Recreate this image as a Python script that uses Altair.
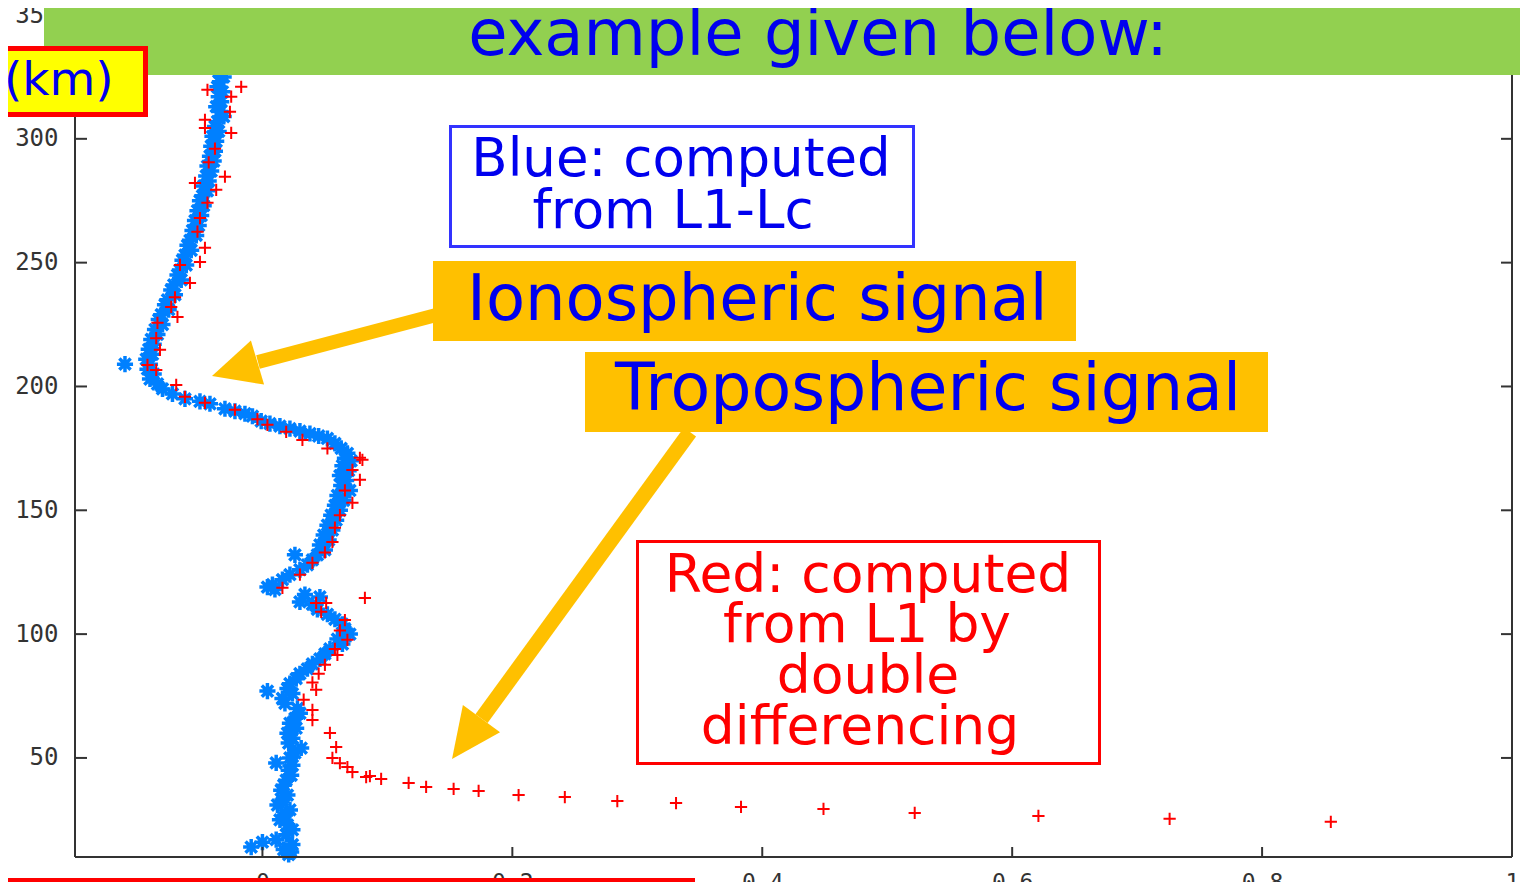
import altair as alt
import pandas as pd

# ---------------- data ----------------
# Blue: computed from L1-Lc  (altitude km, value)
blue_alt = [349, 347, 345, 343, 341, 339, 337, 335, 333, 331, 329, 327, 325, 323, 321, 319, 317, 315,
            313, 311, 309, 307, 305, 303, 301, 299, 297, 295, 293, 291, 289, 287, 285, 283, 281, 279,
            277, 275, 273, 271, 269, 267, 265, 263, 261, 259, 257, 255, 253, 251, 249, 247, 245, 243,
            241, 239, 237, 235, 233, 231, 229, 227, 225, 223, 221, 219, 217, 215, 213, 211, 209, 209,
            207, 205, 203, 201, 199, 197, 195, 194, 193, 191, 190, 189, 188, 186, 185, 184, 183, 182,
            181, 180, 179, 177, 175, 173, 171, 170, 168, 166, 164, 162, 160, 158, 156, 154, 152, 150,
            148, 146, 144, 142, 140, 138, 136, 134, 132, 132, 130, 128, 126, 124, 122, 120, 119, 118,
            116, 115, 113, 112, 110, 108, 106, 104, 102, 100, 98, 96, 94, 92, 90, 88, 86, 84, 82, 80,
            78, 77, 76, 74, 72, 70, 68, 66, 64, 62, 60, 58, 56, 54, 52, 50, 48, 47, 45, 43, 41, 39, 37,
            35, 33, 31, 29, 27, 25, 23, 21, 19, 17, 16, 15, 14, 13, 12, 11]
blue_val = [-0.029, -0.031, -0.028, -0.032, -0.030, -0.033, -0.029, -0.031, -0.034, -0.030, -0.032,
            -0.035, -0.031, -0.034, -0.036, -0.032, -0.035, -0.033, -0.037, -0.034, -0.031, -0.036,
            -0.038, -0.035, -0.040, -0.037, -0.041, -0.038, -0.042, -0.039, -0.044, -0.041, -0.045,
            -0.043, -0.047, -0.044, -0.048, -0.050, -0.047, -0.052, -0.049, -0.054, -0.051, -0.056,
            -0.053, -0.058, -0.060, -0.057, -0.062, -0.064, -0.061, -0.066, -0.068, -0.065, -0.071,
            -0.073, -0.070, -0.076, -0.078, -0.075, -0.081, -0.083, -0.080, -0.086, -0.084, -0.089,
            -0.087, -0.091, -0.088, -0.093, -0.110, -0.090, -0.092, -0.087, -0.090, -0.084, -0.080,
            -0.072, -0.062, -0.050, -0.042, -0.030, -0.022, -0.014, -0.008, -0.001, 0.006, 0.014,
            0.022, 0.030, 0.038, 0.045, 0.052, 0.058, 0.063, 0.068, 0.066, 0.071, 0.064, 0.069, 0.062,
            0.067, 0.063, 0.070, 0.060, 0.065, 0.058, 0.062, 0.055, 0.059, 0.052, 0.056, 0.049, 0.053,
            0.046, 0.050, 0.044, 0.026, 0.040, 0.036, 0.030, 0.022, 0.016, 0.008, 0.004, 0.010, 0.034,
            0.046, 0.030, 0.040, 0.044, 0.052, 0.058, 0.064, 0.066, 0.070, 0.060, 0.064, 0.054, 0.050,
            0.046, 0.040, 0.036, 0.030, 0.027, 0.022, 0.020, 0.004, 0.024, 0.016, 0.018, 0.028, 0.030,
            0.026, 0.022, 0.027, 0.020, 0.024, 0.021, 0.031, 0.026, 0.022, 0.011, 0.024, 0.021, 0.023,
            0.019, 0.017, 0.015, 0.020, 0.016, 0.012, 0.022, 0.018, 0.014, 0.020, 0.024, 0.019, 0.011,
            0.000, 0.024, -0.009, 0.017, 0.023, 0.021]

# Red: computed from L1 by double differencing
red_alt = [321.0, 319.8, 317.0, 310.9, 307.7, 304.4, 302.4, 296.0, 290.5, 284.7, 282.2, 279.4, 274.2,
           268.0, 262.5, 256.0, 250.3, 249.1, 241.8, 236.0, 232.1, 228.1, 225.7, 219.5, 214.8, 208.7,
           206.7, 200.6, 195.8, 193.4, 190.6, 186.8, 184.5, 181.7, 178.4, 175.0, 171.2, 170.4, 166.3,
           162.3, 158.0, 153.0, 148.0, 143.0, 137.2, 133.0, 128.8, 124.0, 118.7, 114.6, 112.6, 112.6,
           109.0, 105.7, 101.5, 97.7, 94.0, 91.6, 87.6, 84.0, 80.5, 77.5, 73.5, 69.4, 65.3, 60.1,
           54.4, 50.0, 47.9, 46.3, 44.3, 42.7, 42.3, 41.5, 39.9, 38.3, 37.5, 36.7, 35.0, 34.2, 32.6,
           31.8, 30.2, 29.4, 27.8, 26.6, 25.4, 24.2]
red_val = [-0.017, -0.044, -0.025, -0.026, -0.046, -0.046, -0.025, -0.038, -0.043, -0.030, -0.054,
           -0.037, -0.044, -0.050, -0.052, -0.046, -0.050, -0.066, -0.058, -0.070, -0.073, -0.068,
           -0.084, -0.085, -0.082, -0.092, -0.085, -0.069, -0.062, -0.046, -0.022, -0.004, 0.004,
           0.019, 0.032, 0.052, 0.078, 0.080, 0.072, 0.078, 0.066, 0.072, 0.062, 0.058, 0.056, 0.050,
           0.040, 0.030, 0.016, 0.082, 0.043, 0.051, 0.047, 0.066, 0.062, 0.068, 0.058, 0.060, 0.050,
           0.045, 0.040, 0.043, 0.033, 0.040, 0.040, 0.054, 0.059, 0.056, 0.062, 0.068, 0.072, 0.086,
           0.083, 0.095, 0.117, 0.131, 0.153, 0.173, 0.205, 0.242, 0.284, 0.331, 0.383, 0.449, 0.522,
           0.621, 0.726, 0.855]

x_ticks = [0, 0.2, 0.4, 0.6, 0.8, 1]
y_ticks = [50, 100, 150, 200, 250, 300, 350]

# ---------------- layout ----------------
W, H = 1437, 842
AXIS = "#333333"
BLUE_TXT = "#0000ee"
ORANGE = "#ffc000"
FONT = "DejaVu Sans"

blue_df = pd.DataFrame({"x": blue_val, "alt": blue_alt})
red_df = pd.DataFrame({"x": red_val, "alt": red_alt})
xt_df = pd.DataFrame({"x": x_ticks})
yt_df = pd.DataFrame({"alt": y_ticks})
one = pd.DataFrame({"a": [0]})

xscale = alt.Scale(domain=[-0.15, 1], nice=False, zero=False)
yscale = alt.Scale(domain=[10, 350], nice=False, zero=False)

x_axis = alt.Axis(values=x_ticks, format="~g", ticks=False, domain=False, grid=False,
                  labelFont="DejaVu Sans Mono", labelFontSize=23, labelColor=AXIS,
                  labelPadding=14, labelFlush=False, title=None)
y_axis = alt.Axis(values=y_ticks, format="d", ticks=False, domain=False, grid=False,
                  labelFont="DejaVu Sans Mono", labelFontSize=24, labelColor=AXIS,
                  labelPadding=17, labelFlush=False, title=None)

STAR = "M-1,0L1,0M0,-1L0,1M-0.7,-0.7L0.7,0.7M-0.7,0.7L0.7,-0.7"
PLUS = "M-1,0L1,0M0,-1L0,1"
HEAD1 = "M0,-1L0.97,1L-0.97,1Z"
HEAD2 = "M0,-1L0.92,1L-0.92,1Z"

X = alt.X("x:Q", scale=xscale, axis=x_axis)
Y = alt.Y("alt:Q", scale=yscale, axis=y_axis)

blue = alt.Chart(blue_df).mark_point(shape=STAR, color="#0080ff", strokeWidth=3.5, size=260,
                                     opacity=1).encode(x=X, y=Y)
red = alt.Chart(red_df).mark_point(shape=PLUS, color="#ff0000", strokeWidth=2, size=150,
                                   opacity=1).encode(x=X, y=Y)

# frame and inward ticks
frame = [
    alt.Chart(one).mark_rule(color=AXIS, strokeWidth=2).encode(
        x=alt.value(0), x2=alt.value(0), y=alt.value(0), y2=alt.value(H)),
    alt.Chart(one).mark_rule(color=AXIS, strokeWidth=2).encode(
        x=alt.value(W), x2=alt.value(W), y=alt.value(0), y2=alt.value(H)),
    alt.Chart(one).mark_rule(color=AXIS, strokeWidth=2).encode(
        x=alt.value(0), x2=alt.value(W), y=alt.value(H), y2=alt.value(H)),
    alt.Chart(one).mark_rule(color=AXIS, strokeWidth=2).encode(
        x=alt.value(0), x2=alt.value(W), y=alt.value(0), y2=alt.value(0)),
    alt.Chart(xt_df).mark_rule(color=AXIS, strokeWidth=2).encode(
        x=X, y=alt.value(H), y2=alt.value(H - 10)),
    alt.Chart(xt_df).mark_rule(color=AXIS, strokeWidth=2).encode(
        x=X, y=alt.value(0), y2=alt.value(10)),
    alt.Chart(yt_df).mark_rule(color=AXIS, strokeWidth=2).encode(
        y=Y, x=alt.value(0), x2=alt.value(12)),
    alt.Chart(yt_df).mark_rule(color=AXIS, strokeWidth=2).encode(
        y=Y, x=alt.value(W), x2=alt.value(W - 11)),
]


def box(x1, x2, y1, y2, fill, stroke="transparent", sw=0):
    return alt.Chart(one).mark_rect(fill=fill, stroke=stroke, strokeWidth=sw).encode(
        x=alt.value(x1), x2=alt.value(x2), y=alt.value(y1), y2=alt.value(y2))


def label(txt, x, y, size, color, align="center"):
    return alt.Chart(one).mark_text(text=txt, font=FONT, fontSize=size, color=color,
                                    align=align, baseline="alphabetic").encode(
        x=alt.value(x), y=alt.value(y))


def shaft(x1, y1, x2, y2, w):
    return alt.Chart(one).mark_rule(color=ORANGE, strokeWidth=w, strokeCap="butt").encode(
        x=alt.value(x1), y=alt.value(y1), x2=alt.value(x2), y2=alt.value(y2))


def head(x, y, shape, size, angle):
    return alt.Chart(one).mark_point(shape=shape, filled=True, fill=ORANGE, size=size,
                                     angle=angle, opacity=1, strokeWidth=0).encode(
        x=alt.value(x), y=alt.value(y))


notes = [
    # arrows (under the orange boxes)
    shaft(365, 299, 183, 347, 14),
    head(159.75, 354.25, HEAD1, 2256, 253.4),
    shaft(615, 417, 406.5, 703.6, 15),
    head(391.75, 723.8, HEAD2, 2500, 216.1),
    # green banner
    box(-31, 1460, -10, 60, "#92d050"),
    label("example given below:", 743, 40, 64, BLUE_TXT),
    # (km) box
    box(-72.5, 70.5, 33.5, 99.5, "#ffff00", "#ff0000", 5),
    label("(km)", -71, 80, 47, BLUE_TXT, "left"),
    # blue box
    box(375.5, 838.5, 111.5, 231.5, "#ffffff", "#3333ff", 3),
    label("Blue: computed", 606, 161, 53, BLUE_TXT),
    label("from L1-Lc", 598, 213, 53, BLUE_TXT),
    # orange boxes
    box(358, 1001, 246, 326, ORANGE),
    label("Ionospheric signal", 392, 305, 64, BLUE_TXT, "left"),
    box(510, 1193, 337, 417, ORANGE),
    label("Tropospheric signal", 540, 395, 65, BLUE_TXT, "left"),
    # red box
    box(562.5, 1024.5, 526.5, 748.5, "#ffffff", "#ff0000", 3),
    label("Red: computed", 793, 577, 53.5, "#ff0000"),
    label("from L1 by", 792, 627, 53.5, "#ff0000"),
    label("double", 793, 678, 53.5, "#ff0000"),
    label("differencing", 785, 729, 53.5, "#ff0000"),
    # red line at the bottom edge (kept inside the page)
    box(-75, 620, 863, 872, "#ff0000"),
]

chart = alt.layer(blue, red, *frame, *notes).properties(
    width=W, height=H,
    autosize=alt.AutoSizeParams(type="none"),
    padding={"left": 67, "top": 7, "right": 8, "bottom": 25},
    background="white",
).configure_view(strokeWidth=0)

chart.save("out.html", embed_options={"renderer": "svg", "actions": False})
